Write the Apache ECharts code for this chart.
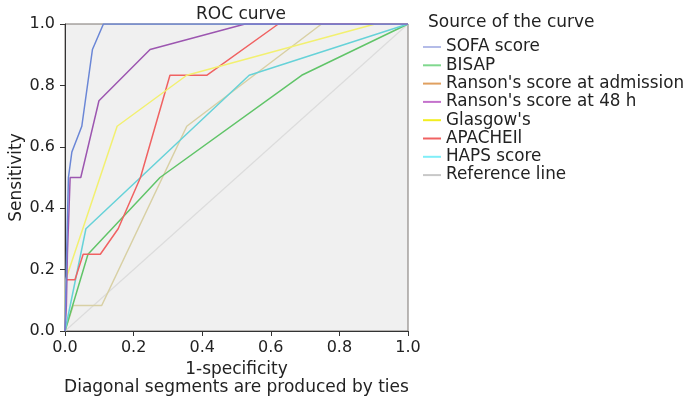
<!DOCTYPE html>
<html>
<head>
<meta charset="utf-8">
<script src="https://cdn.jsdelivr.net/npm/echarts@6/dist/echarts.min.js"></script>
<style>html,body{margin:0;padding:0;background:#fff}#c{width:696px;height:403px}</style>
</head>
<body>
<div id="c"></div>
<script>
const seriesNames = ["SOFA score","BISAP","Ranson's score at admission","Ranson's score at 48 h","Glasgow's","APACHEIl","HAPS score","Reference line"];
const sofa = [[0,0],[0.003,0.167],[0.01,0.5],[0.02,0.583],[0.049,0.667],[0.08,0.917],[0.112,1],[1,1]];
const bisap = [[0,0],[0.067,0.25],[0.277,0.5],[0.69,0.833],[1,1]];
const ransonAdm = [[0,0],[0.024,0.083],[0.107,0.083],[0.355,0.667],[0.748,1],[1,1]];
const ranson48 = [[0,0],[0.004,0.083],[0.007,0.25],[0.015,0.5],[0.046,0.5],[0.099,0.75],[0.248,0.917],[0.525,1],[1,1]];
const glasgow = [[0,0],[0.002,0.167],[0.152,0.667],[0.355,0.833],[0.904,1],[1,1]];
const apache = [[0,0],[0.002,0.083],[0.004,0.167],[0.029,0.167],[0.053,0.25],[0.103,0.25],[0.155,0.333],[0.22,0.5],[0.306,0.833],[0.413,0.833],[0.622,1],[1,1]];
const haps = [[0,0],[0.061,0.333],[0.537,0.833],[1,1]];
const reference = [[0,0],[1,1]];
const xTicks = [0,0.2,0.4,0.6,0.8,1.0];
const yTicks = [0,0.2,0.4,0.6,0.8,1.0];

const lineColors = ['#6a86d6','#60c468','#d8d0a4','#9c56b0','#f2f070','#f06262','#66d2d8','#dcdcdc'];
const legendColors = ['#b4bce8','#80d88e','#e0a060','#c472cc','#f2ee20','#f06262','#80eef8','#c8c8c8'];
const allData = [sofa,bisap,ransonAdm,ranson48,glasgow,apache,haps,reference];
const drawOrder = [7,2,1,6,5,4,3,0];

const font = 'DejaVu Sans';
const chart = echarts.init(document.getElementById('c'));
chart.setOption({
  animation: false,
  backgroundColor: '#fff',
  title: [
    {text: 'ROC curve', left: 236, top: 1, textAlign: 'center', textStyle: {fontFamily: font, fontSize: 17, fontWeight: 'normal', color: '#222'}},
    {text: 'Source of the curve', left: 423, top: 9, textStyle: {fontFamily: font, fontSize: 17, fontWeight: 'normal', color: '#222'}}
  ],
  grid: {left: 65, right: 288, top: 24, bottom: 72, show: true, backgroundColor: '#f0f0f0', borderColor: '#7a7470', borderWidth: 1},
  legend: {
    orient: 'vertical', left: 418, top: 33, icon: 'rect', itemWidth: 18, itemHeight: 2, itemGap: 0.3,
    textStyle: {fontFamily: font, fontSize: 16.8, color: '#222', lineHeight: 18},
    data: seriesNames.map((n,i) => ({name: n, itemStyle: {color: legendColors[i]}}))
  },
  xAxis: {
    type: 'value', min: 0, max: 1, interval: 0.2,
    name: '1-specificity\nDiagonal segments are produced by ties', nameLocation: 'middle', nameGap: 30,
    nameTextStyle: {fontFamily: font, fontSize: 17, color: '#222', lineHeight: 18, verticalAlign: 'top'},
    axisLine: {lineStyle: {color: '#333', width: 1}},
    axisTick: {show: true, length: 5, lineStyle: {color: '#333'}},
    axisLabel: {fontFamily: font, fontSize: 16, color: '#222', margin: 9, formatter: v => v.toFixed(1)},
    splitLine: {show: false}
  },
  yAxis: {
    type: 'value', min: 0, max: 1, interval: 0.2,
    name: 'Sensitivity', nameLocation: 'middle', nameGap: 40, nameRotate: 90,
    nameTextStyle: {fontFamily: font, fontSize: 17, color: '#222'},
    axisLine: {show: true, lineStyle: {color: '#333', width: 1}},
    axisTick: {show: true, length: 5, lineStyle: {color: '#333'}},
    axisLabel: {fontFamily: font, fontSize: 16, color: '#222', margin: 10, formatter: v => v.toFixed(1)},
    splitLine: {show: false}
  },
  series: drawOrder.map(i => ({
    name: seriesNames[i], type: 'line', data: allData[i], symbol: 'none',
    lineStyle: {color: lineColors[i], width: i === 7 ? 1.2 : 1.5},
    itemStyle: {color: lineColors[i]},
    z: 2 + drawOrder.indexOf(i)
  }))
});
</script>
</body>
</html>
